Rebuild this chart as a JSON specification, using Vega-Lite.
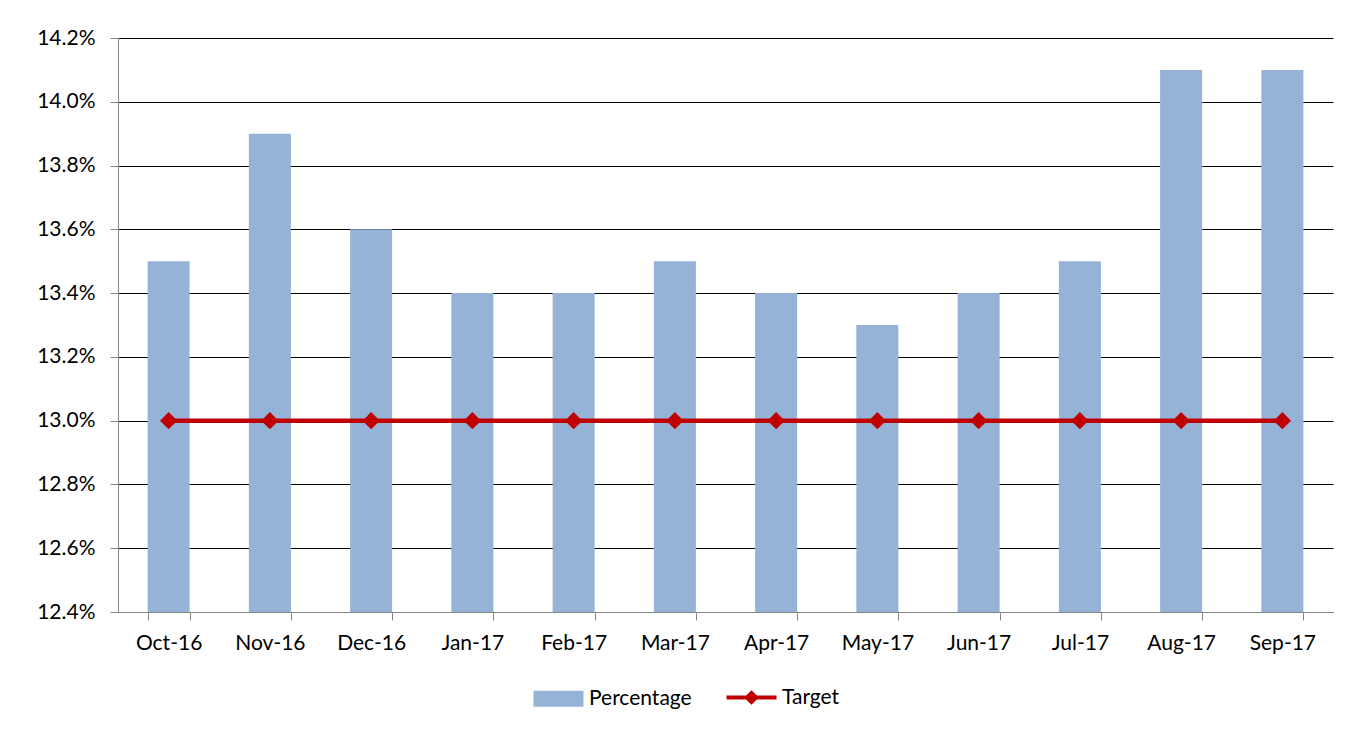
{
  "$schema": "https://vega.github.io/schema/vega-lite/v6.json",
  "autosize": {"type": "none"},
  "width": 1215,
  "height": 574,
  "padding": {"left": 118, "top": 38, "right": 26, "bottom": 128},
  "background": "white",
  "config": {
    "font": "Lato",
    "view": {"stroke": null},
    "axis": {"labelFont": "Lato", "labelFontSize": 21, "labelColor": "#000000", "titleFont": "Lato"},
    "legend": {"labelFont": "Lato", "labelFontSize": 21, "labelColor": "#000000"}
  },
  "data": {
    "values": [
      {"month": "Oct-16", "series": "Percentage", "value": 0.135},
      {"month": "Nov-16", "series": "Percentage", "value": 0.139},
      {"month": "Dec-16", "series": "Percentage", "value": 0.136},
      {"month": "Jan-17", "series": "Percentage", "value": 0.134},
      {"month": "Feb-17", "series": "Percentage", "value": 0.134},
      {"month": "Mar-17", "series": "Percentage", "value": 0.135},
      {"month": "Apr-17", "series": "Percentage", "value": 0.134},
      {"month": "May-17", "series": "Percentage", "value": 0.133},
      {"month": "Jun-17", "series": "Percentage", "value": 0.134},
      {"month": "Jul-17", "series": "Percentage", "value": 0.135},
      {"month": "Aug-17", "series": "Percentage", "value": 0.141},
      {"month": "Sep-17", "series": "Percentage", "value": 0.141},
      {"month": "Oct-16", "series": "Target", "value": 0.13},
      {"month": "Nov-16", "series": "Target", "value": 0.13},
      {"month": "Dec-16", "series": "Target", "value": 0.13},
      {"month": "Jan-17", "series": "Target", "value": 0.13},
      {"month": "Feb-17", "series": "Target", "value": 0.13},
      {"month": "Mar-17", "series": "Target", "value": 0.13},
      {"month": "Apr-17", "series": "Target", "value": 0.13},
      {"month": "May-17", "series": "Target", "value": 0.13},
      {"month": "Jun-17", "series": "Target", "value": 0.13},
      {"month": "Jul-17", "series": "Target", "value": 0.13},
      {"month": "Aug-17", "series": "Target", "value": 0.13},
      {"month": "Sep-17", "series": "Target", "value": 0.13}
    ]
  },
  "encoding": {
    "x": {
      "field": "month",
      "type": "ordinal",
      "sort": null,
      "title": null,
      "scale": {"paddingInner": 0.585, "paddingOuter": 0.2925},
      "axis": {
        "labelAngle": 0,
        "tickBand": "extent",
        "domainColor": "#868686",
        "tickColor": "#868686",
        "tickSize": 8,
        "labelPadding": 12,
        "grid": false
      }
    },
    "y": {
      "field": "value",
      "type": "quantitative",
      "title": null,
      "scale": {"domain": [0.124, 0.142], "zero": false, "nice": false},
      "axis": {
        "format": ".1%",
        "values": [0.124, 0.126, 0.128, 0.13, 0.132, 0.134, 0.136, 0.138, 0.14, 0.142],
        "domainColor": "#868686",
        "tickColor": "#868686",
        "tickSize": 8,
        "labelPadding": 15,
        "gridColor": "#000000",
        "gridOpacity": 1,
        "gridWidth": 1
      }
    },
    "color": {
      "field": "series",
      "type": "nominal",
      "title": null,
      "scale": {"domain": ["Percentage", "Target"], "range": ["#95B3D7", "#C00000"]},
      "legend": {
        "orient": "none",
        "legendX": 430,
        "legendY": 649,
        "direction": "horizontal",
        "symbolSize": 2500,
        "symbolType": "M-1,-0.32L1,-0.32L1,0.32L-1,0.32Z",
        "labelOffset": 20,
        "columnPadding": 26,
        "encode": {
          "symbols": {
            "update": {
              "shape": {"signal": "datum.value === 'Target' ? 'M-1,0L-0.18,0L0,-0.18L0.18,0L1,0L0.18,0L0,0.18L-0.18,0Z' : 'M-1,-0.32L1,-0.32L1,0.32L-1,0.32Z'"},
              "fill": {"signal": "datum.value === 'Target' ? '#C00000' : '#95B3D7'"},
              "stroke": {"signal": "datum.value === 'Target' ? '#C00000' : '#95B3D7'"},
              "strokeWidth": {"signal": "datum.value === 'Target' ? 4 : 0"},
              "opacity": {"value": 1},
              "fillOpacity": {"value": 1}
            }
          }
        }
      }
    }
  },
  "layer": [
    {
      "transform": [{"filter": "datum.series === 'Percentage'"}],
      "mark": {"type": "bar", "opacity": 1},
      "encoding": {"y2": {"datum": 0.124}}
    },
    {
      "transform": [{"filter": "datum.series === 'Target'"}],
      "mark": {"type": "line", "strokeWidth": 4.5, "point": {"shape": "diamond", "size": 300, "filled": true, "opacity": 1}},
      "encoding": {}
    }
  ]
}
